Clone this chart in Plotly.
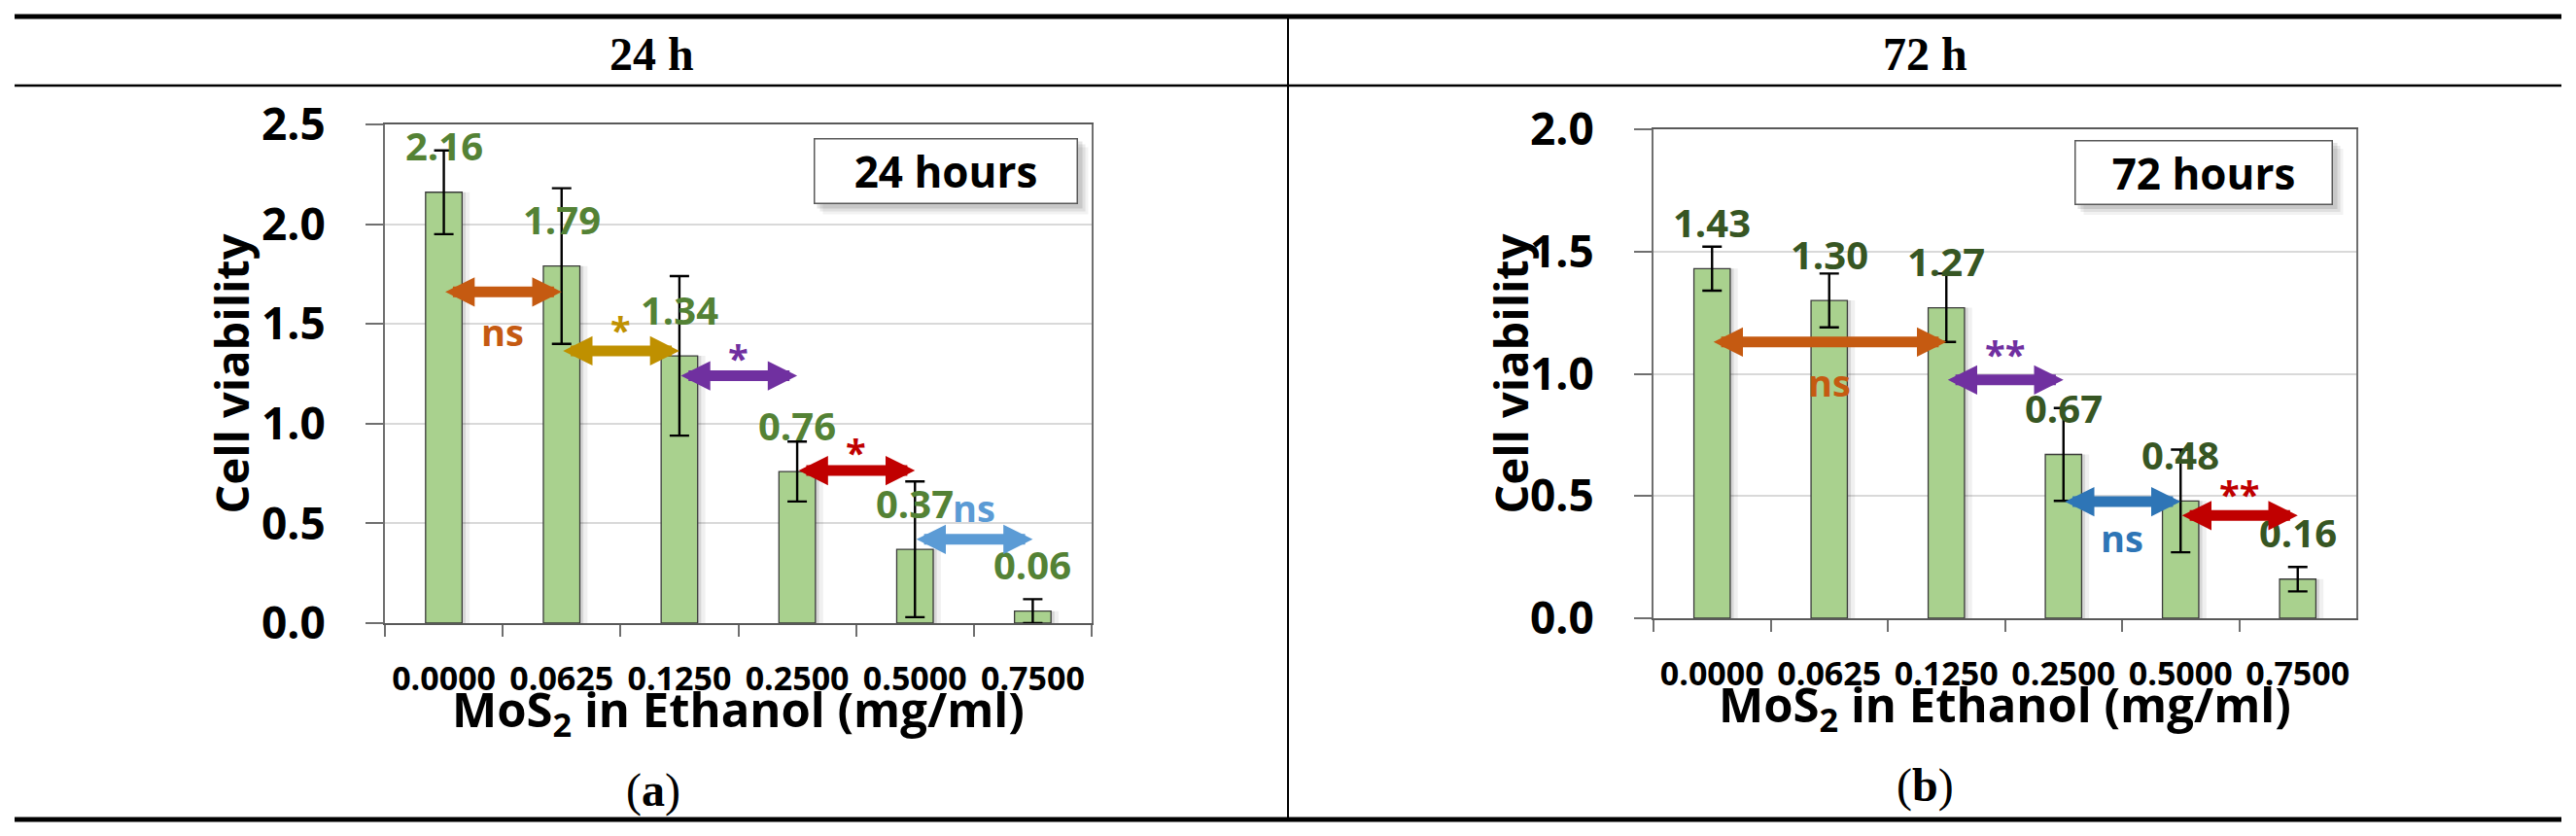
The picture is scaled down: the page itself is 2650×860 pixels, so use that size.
import plotly.graph_objects as go

W, H = 2650, 860
OFF = 8  # page body margin in front of the plot div

concentrations = ["0.0000", "0.0625", "0.1250", "0.2500", "0.5000", "0.7500"]

viability_24h = [2.16, 1.79, 1.34, 0.76, 0.37, 0.06]
sd_24h = [0.21, 0.39, 0.40, 0.15, 0.34, 0.06]
viability_72h = [1.43, 1.30, 1.27, 0.67, 0.48, 0.16]
sd_72h = [0.09, 0.11, 0.14, 0.19, 0.21, 0.05]

# pairwise comparisons, drawn as double arrows between bar indices
cmp_24h_from = [0, 1, 2, 3, 4]
cmp_24h_to = [1, 2, 3, 4, 5]
cmp_24h_level = [1.66, 1.365, 1.24, 0.765, 0.42]
cmp_24h_text = ["ns", "*", "*", "*", "ns"]
cmp_24h_text_level = [1.46, 1.47, 1.33, 0.86, 0.58]

cmp_72h_from = [0, 2, 3, 4]
cmp_72h_to = [2, 3, 4, 5]
cmp_72h_level = [1.13, 0.975, 0.477, 0.42]
cmp_72h_text = ["ns", "**", "ns", "**"]
cmp_72h_text_level = [0.965, 1.08, 0.33, 0.51]


# screen pixel -> paper fraction
def px(x):
    return (x - OFF) / W


def py(y):
    return 1 - (y - OFF) / H


panels = [
    dict(n="", values=viability_24h, sd=sd_24h, ymax=2.5,
         frm=cmp_24h_from, to=cmp_24h_to, level=cmp_24h_level,
         text=cmp_24h_text, text_level=cmp_24h_text_level,
         colors=["#C55A11", "#BF9000", "#7030A0", "#C00000", "#5B9BD5"],
         label_color="#548235", box="24 hours", header="24 h", tag="a",
         dx=(396, 1123), dy=(128, 641), box_xy=(973, 176), box_wh=(273, 69),
         header_x=670, tag_xy=(672, 813), ytitle_x=237, xtitle_y=732),
    dict(n="2", values=viability_72h, sd=sd_72h, ymax=2.0,
         frm=cmp_72h_from, to=cmp_72h_to, level=cmp_72h_level,
         text=cmp_72h_text, text_level=cmp_72h_text_level,
         colors=["#C55A11", "#7030A0", "#2E75B6", "#C00000"],
         label_color="#375623", box="72 hours", header="72 h", tag="b",
         dx=(1701, 2424), dy=(133, 636), box_xy=(2267, 177), box_wh=(267, 68),
         header_x=1980, tag_xy=(1980, 808), ytitle_x=1553, xtitle_y=727),
]

fig = go.Figure()
bold = dict(family="Open Sans", weight="bold", color="black")
mid = dict(xanchor="center", yanchor="middle", showarrow=False)

for p in panels:
    xa, ya = "x" + p["n"], "y" + p["n"]

    # soft shadow next to each bar
    for off, alpha in [(0.03, 0.10), (0.065, 0.06)]:
        fig.add_trace(go.Bar(
            x=concentrations, y=p["values"], xaxis=xa, yaxis=ya,
            width=0.31, offset=-0.155 + off,
            marker=dict(color=f"rgba(0,0,0,{alpha})", line=dict(width=0)),
            hoverinfo="skip", showlegend=False,
        ))

    fig.add_trace(go.Bar(
        x=concentrations, y=p["values"], xaxis=xa, yaxis=ya,
        width=0.31, offset=-0.155,
        marker=dict(color="#A9D18E", line=dict(color="#3B3B3B", width=1.3)),
        error_y=dict(type="data", array=p["sd"], color="black",
                     thickness=2.4, width=10),
        showlegend=False,
    ))

    # value labels above bars
    for i, v in enumerate(p["values"]):
        fig.add_annotation(
            x=i, y=v, xref=xa, yref=ya, text=f"{v:.2f}", yshift=48,
            font=dict(family="Open Sans", weight="bold",
                      size=40, color=p["label_color"]), **mid,
        )

    # significance arrows
    for a, b, lev, t, tl, c in zip(p["frm"], p["to"], p["level"],
                                   p["text"], p["text_level"], p["colors"]):
        fig.add_annotation(
            x=b, y=lev, ax=a, ay=lev, xref=xa, yref=ya, axref=xa, ayref=ya,
            text="", showarrow=True, arrowside="end+start",
            arrowhead=2, startarrowhead=2, arrowsize=0.55, startarrowsize=0.55,
            arrowwidth=11, arrowcolor=c,
        )
        fig.add_annotation(
            x=(a + b) / 2, y=tl, xref=xa, yref=ya, text=t,
            font=dict(family="Open Sans", weight="bold", size=38, color=c),
            **mid,
        )

    # axes
    fig.update_layout({
        "xaxis" + p["n"]: dict(
            domain=[px(p["dx"][0]), px(p["dx"][1])], anchor=ya,
            type="category", range=[-0.5, 5.5], tickson="boundaries",
            ticks="outside", ticklen=12, tickwidth=2, tickcolor="#6F6F6F",
            showline=True, linecolor="#595959", linewidth=2, mirror=True,
            showgrid=False, tickangle=0, ticklabelstandoff=26,
            automargin=False, tickfont=dict(bold, size=34),
        ),
        "yaxis" + p["n"]: dict(
            domain=[py(p["dy"][1]), py(p["dy"][0])], anchor=xa,
            range=[0, p["ymax"]], dtick=0.5, tick0=0, tickformat=".1f",
            ticks="outside", ticklen=18, tickwidth=2, tickcolor="#6F6F6F",
            showline=True, linecolor="#6F6F6F", linewidth=2, mirror=True,
            showgrid=True, gridcolor="#D9D9D9", gridwidth=2, zeroline=False,
            ticklabelstandoff=32, automargin=False,
            tickfont=dict(bold, size=46),
        ),
    })

    # axis titles
    fig.add_annotation(
        x=px(p["ytitle_x"]), y=py(sum(p["dy"]) / 2), xref="paper", yref="paper",
        text="Cell viability", textangle=-90, font=dict(bold, size=47), **mid,
    )
    fig.add_annotation(
        x=px(sum(p["dx"]) / 2), y=py(p["xtitle_y"]), xref="paper", yref="paper",
        text="MoS<sub>2</sub> in Ethanol (mg/ml)", font=dict(bold, size=49),
        **mid,
    )

    # "24 hours" / "72 hours" box with shadow
    bx, by = p["box_xy"]
    bw, bh = p["box_wh"]
    for s, alpha in [(10, 0.05), (7, 0.08), (4, 0.10)]:
        fig.add_shape(
            type="rect", xref="paper", yref="paper",
            x0=px(bx - bw / 2 + s), x1=px(bx + bw / 2 + s),
            y0=py(by + bh / 2 + s), y1=py(by - bh / 2 + s),
            line=dict(width=0), fillcolor=f"rgba(0,0,0,{alpha})",
        )
    fig.add_annotation(
        x=px(bx), y=py(by), xref="paper", yref="paper", text=p["box"],
        width=bw - 4, height=bh - 4, borderpad=0,
        bgcolor="white", bordercolor="#595959", borderwidth=1.5,
        font=dict(bold, size=44), **mid,
    )

    # table header and panel tag
    fig.add_annotation(
        x=px(p["header_x"]), y=py(55), xref="paper", yref="paper",
        text=f"<b>{p['header']}</b>",
        font=dict(family="Liberation Serif", size=48, color="black"), **mid,
    )
    tx, ty = p["tag_xy"]
    fig.add_annotation(
        x=px(tx), y=py(ty), xref="paper", yref="paper",
        text=f"(<b>{p['tag']}</b>)",
        font=dict(family="Liberation Serif", size=48, color="black"), **mid,
    )

# table rules
for y, w in [(17, 5), (88, 2.5), (843, 5)]:
    fig.add_shape(type="line", xref="paper", yref="paper",
                  x0=px(15), x1=px(2635), y0=py(y), y1=py(y),
                  line=dict(color="black", width=w))
fig.add_shape(type="line", xref="paper", yref="paper",
              x0=px(1325), x1=px(1325), y0=py(17), y1=py(843),
              line=dict(color="black", width=2))

fig.update_layout(
    width=W, height=H,
    margin=dict(l=0, r=0, t=0, b=0, pad=0, autoexpand=False),
    paper_bgcolor="white", plot_bgcolor="rgba(0,0,0,0)",
    barmode="overlay", showlegend=False,
    font=dict(family="Open Sans", color="black"),
)

fig.write_html("out.html")
